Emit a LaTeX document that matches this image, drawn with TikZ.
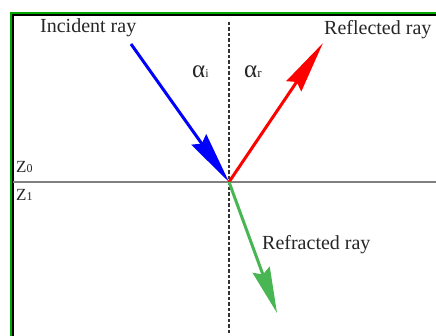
\documentclass[tikz,border=0pt]{standalone}
\usepackage{fontspec}
\setmainfont{Liberation Serif}
\usetikzlibrary{arrows.meta}
\definecolor{rayblue}{RGB}{0,0,255}
\definecolor{rayred}{RGB}{255,0,0}
\definecolor{raygreen}{RGB}{72,182,82}
\definecolor{frgreen}{RGB}{0,170,0}
\begin{document}
\begin{tikzpicture}[x=1pt,y=-1pt,
  lbl/.style={anchor=base west,inner sep=0pt,font=\fontsize{20}{24}\selectfont,text=black!85},
  ang/.style={anchor=base west,inner sep=0pt,font=\fontsize{25}{28}\selectfont,text=black!85},
  zlbl/.style={anchor=base west,inner sep=0pt,font=\fontsize{17}{20}\selectfont,text=black!85},
  ray/.style={line width=3pt,-{Stealth[length=52pt,width=18pt,inset=5pt]}}]
\useasboundingbox (0,0) rectangle (436,336);
% frame
\draw[frgreen,line width=2pt] (11,337) -- (11,13) -- (437,13);
\draw[black,line width=1.6pt] (13,337) -- (13,14.8) -- (437,14.8);
% points
\coordinate (O) at (229,182);
\coordinate (Ninc) at (131,44);
\coordinate (Nref) at (323,43);
\coordinate (Nfr) at (277,313);
\coordinate (Ntop) at (229,22);
\coordinate (Nbot) at (229,337);
\coordinate (Lw) at (13,182);
\coordinate (Le) at (437,182);
% normal and interface
\draw[black!80,line width=1.8pt,dash pattern=on 3.5pt off 2pt] (Ntop) -- (Nbot);
\draw[black!50,line width=2pt] (Lw) -- (Le);
% rays
\draw[ray,rayblue] (Ninc) -- (O);
\draw[ray,rayred] (O) -- (Nref);
\draw[ray,raygreen,-{Stealth[length=46pt,width=18pt,inset=5pt]}] (O) -- (Nfr);
% labels
\node[lbl] (tinc) at (40,33) {Incident ray};
\node[lbl] (tref) at (324,35) {Reflected ray};
\node[lbl] (tfr) at (262,250) {Refracted ray};
\node[ang] (ai) at (192,78) {α{\fontsize{12}{14}\selectfont i}};
\node[ang] (ar) at (244,78) {α{\fontsize{13}{14}\selectfont r}};
\node[zlbl] (z0) at (16,173) {Z{\fontsize{12}{14}\selectfont 0}};
\node[zlbl] (z1) at (16,201) {Z{\fontsize{12}{14}\selectfont 1}};
\end{tikzpicture}
\end{document}
